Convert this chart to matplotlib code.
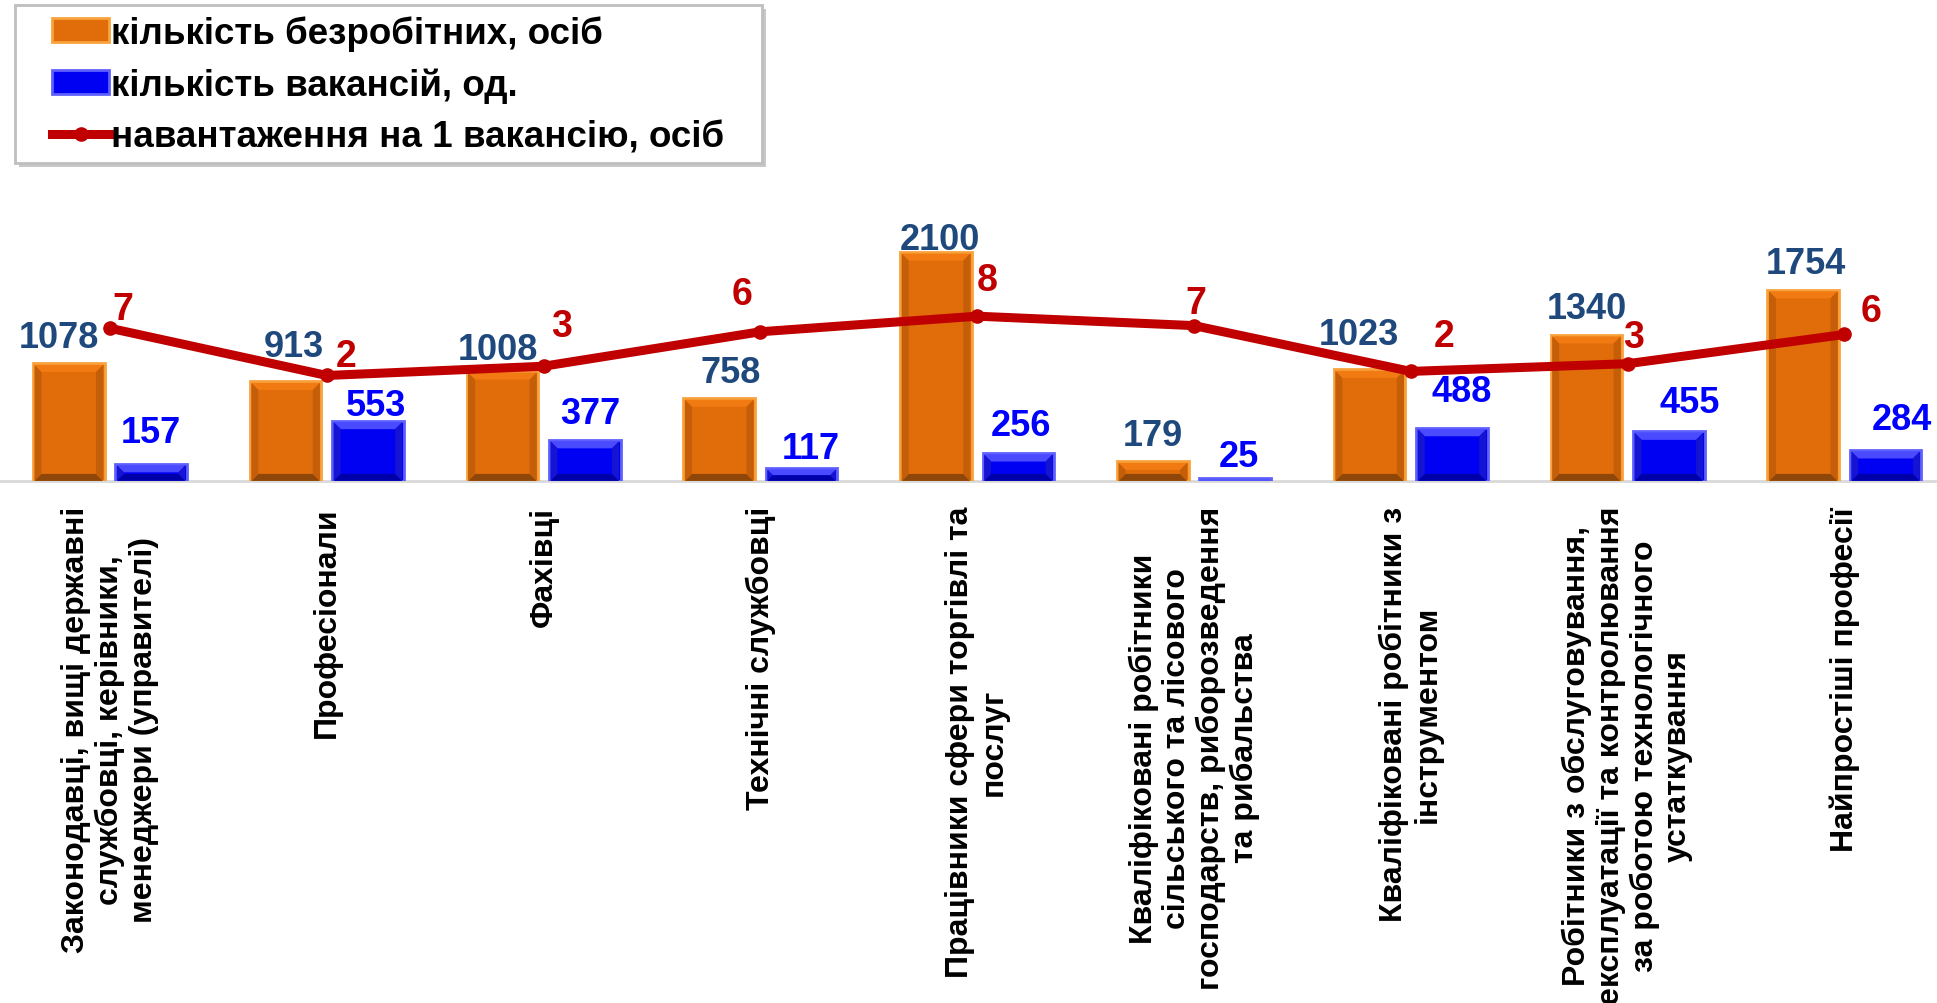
import matplotlib.pyplot as plt
import numpy as np
from matplotlib.lines import Line2D
from matplotlib.patches import Patch, Polygon, Rectangle

# data
categories = [
    "Законодавці, вищі державні\nслужбовці, керівники,\nменеджери (управителі)",
    "Професіонали",
    "Фахівці",
    "Технічні службовці",
    "Працівники сфери торгівлі та\nпослуг",
    "Кваліфіковані робітники\nсільського та лісового\nгосподарств, риборозведення\nта рибальства",
    "Кваліфіковані робітники з\nінструментом",
    "Робітники з обслуговування,\nексплуатації та контролювання\nза роботою технологічного\nустаткування",
    "Найпростіші професії",
]
unemployed = [1078, 913, 1008, 758, 2100, 179, 1023, 1340, 1754]
vacancies = [157, 553, 377, 117, 256, 25, 488, 455, 284]
load = [6.87, 1.65, 2.67, 6.48, 8.20, 7.16, 2.10, 2.95, 6.18]

series_names = [
    "кількість безробітних, осіб",
    "кількість вакансій, од.",
    "навантаження на 1 вакансію, осіб",
]

ORANGE = "#E06C0A"
ORANGE_EDGE = "#F9A23C"
ORANGE_BEVEL = ("#F27A12", "#8E4708", "#C45E09")   # top, bottom, sides
BLUE = "#0000F2"
BLUE_EDGE = "#6060FF"
BLUE_BEVEL = ("#4A4AFF", "#0000A8", "#1414D2")
RED = "#C00000"
NAVY = "#1F497D"
LABEL_BLUE = "#0000FF"
GRID = "#D9D9D9"

# label nudges in points (the original labels were placed by hand)
orange_dx = [-7, 6, -3, 8, 3, 0, -8, 0, 2]
orange_dy = [12, 18, 9, 12, 2, 12, 18, 12, 12]
blue_dx = [0, 6, 4, 7, 2, 3, 7, 15, 12]
blue_dy = [16, 4, 12, 7, 13, 9, 19, 14, 15]
red_dx = [9, 14, 13, -13, 7, 1, 24, 4, 19]
red_dy = [7, 7, 22, 20, 19, 9, 18, 12, 10]

plt.rcParams["font.family"] = ["Liberation Sans", "DejaVu Sans"]

fig = plt.figure(figsize=(19.37, 10.04), dpi=100, facecolor="white")
ax = fig.add_axes([0.0, 0.52, 1.0, 0.3038])
ax2 = ax.twinx()

x = np.arange(len(categories))
w = 0.33
off = 0.19

bars_u = ax.bar(x - off, unemployed, width=w, color=ORANGE, edgecolor=ORANGE_EDGE,
                linewidth=2, zorder=3)
bars_v = ax.bar(x + off, vacancies, width=w, color=BLUE, edgecolor=BLUE_EDGE,
                linewidth=2, zorder=3)

ax.set_xlim(-0.507, 8.427)
ax.set_ylim(0, 2800)
ax2.set_ylim(-10, 23.7)


def bevel(bar, colors, px=7):
    # fake the Excel "bevel" look with four trapezoids inside the bar
    (x0, y0), (x1, y1) = ax.transData.transform(
        [(bar.get_x(), 0), (bar.get_x() + bar.get_width(), bar.get_height())])
    x0 += 1.5
    x1 -= 1.5
    y1 -= 1.5
    b = min(px, (x1 - x0) / 2, (y1 - y0) / 2)
    if b < 1:
        return
    top, bottom, side = colors
    quads = [
        ([(x0, y1), (x1, y1), (x1 - b, y1 - b), (x0 + b, y1 - b)], top),
        ([(x0, y0), (x1, y0), (x1 - b, y0 + b), (x0 + b, y0 + b)], bottom),
        ([(x0, y0), (x0, y1), (x0 + b, y1 - b), (x0 + b, y0 + b)], side),
        ([(x1, y0), (x1, y1), (x1 - b, y1 - b), (x1 - b, y0 + b)], side),
    ]
    inv = ax.transData.inverted()
    for pts, c in quads:
        ax.add_patch(Polygon(inv.transform(pts), closed=True, facecolor=c,
                             edgecolor="none", zorder=3.5))


for bar in bars_u:
    bevel(bar, ORANGE_BEVEL)
for bar in bars_v:
    bevel(bar, BLUE_BEVEL)

for a in (ax, ax2):
    for side in ("top", "right", "left"):
        a.spines[side].set_visible(False)
    a.set_yticks([])
ax2.spines["bottom"].set_visible(False)
ax.spines["bottom"].set_color(GRID)
ax.spines["bottom"].set_linewidth(2)

ax.set_xticks(x)
ax.set_xticklabels(categories, rotation=90, fontsize=23, fontweight="bold",
                   ha="center", va="top", multialignment="center", linespacing=1.15)
ax.tick_params(axis="x", length=0, pad=18)

for i, bar in enumerate(bars_u):
    ax.annotate(f"{unemployed[i]}", (bar.get_x() + bar.get_width() / 2, bar.get_height()),
                xytext=(orange_dx[i], orange_dy[i]), textcoords="offset points",
                ha="center", va="baseline", fontsize=26, fontweight="bold",
                color=NAVY, zorder=5)
for i, bar in enumerate(bars_v):
    ax.annotate(f"{vacancies[i]}", (bar.get_x() + bar.get_width() / 2, bar.get_height()),
                xytext=(blue_dx[i], blue_dy[i]), textcoords="offset points",
                ha="center", va="baseline", fontsize=26, fontweight="bold",
                color=LABEL_BLUE, zorder=5)

ax2.plot(x, load, color=RED, linewidth=6.5, marker="o", markersize=9.5,
         solid_capstyle="round", zorder=4)
for i, v in enumerate(load):
    ax2.annotate(f"{v:.0f}", (x[i], v), xytext=(red_dx[i], red_dy[i]),
                 textcoords="offset points", ha="center", va="baseline",
                 fontsize=27, fontweight="bold", color=RED, zorder=6)

# legend box with a soft shadow, drawn in pixel units of the figure
W, H = 1937, 1004
fig.patches.append(Rectangle((19 / W, 1 - 168 / H), 747 / W, 158 / H,
                             transform=fig.transFigure, facecolor="#C8C8C8",
                             edgecolor="none", zorder=1))
fig.patches.append(Rectangle((15 / W, 1 - 164 / H), 747 / W, 158 / H,
                             transform=fig.transFigure, facecolor="white",
                             edgecolor="#BFBFBF", linewidth=2, zorder=2))

handles = [
    Patch(facecolor=ORANGE, edgecolor=ORANGE_EDGE, linewidth=2),
    Patch(facecolor=BLUE, edgecolor=BLUE_EDGE, linewidth=2),
    Line2D([0], [0], color=RED, linewidth=6.5, marker="o", markersize=9.5),
]
leg = fig.legend(handles, series_names, loc="upper left",
                 bbox_to_anchor=(45 / W, 1 - 9 / H),
                 prop={"size": 26.5, "weight": "bold"}, frameon=False,
                 handlelength=1.55, handleheight=0.65, handletextpad=0.05,
                 labelspacing=0.45, borderpad=0.2, borderaxespad=0)
leg.set_zorder(3)

fig.savefig("out.png", dpi=100, facecolor="white")
